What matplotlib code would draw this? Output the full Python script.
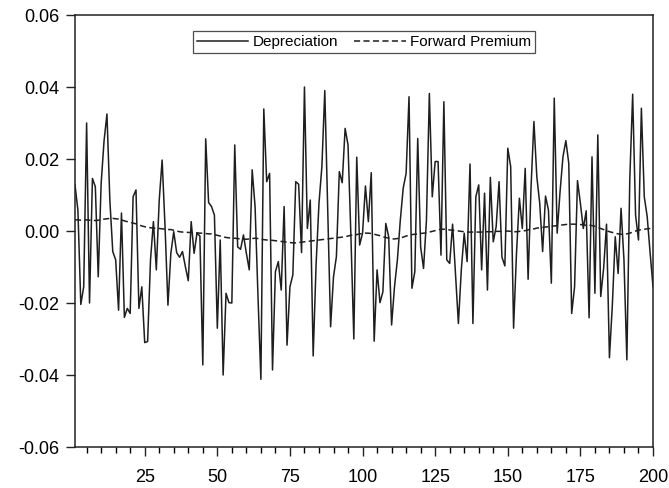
import numpy as np
import matplotlib
matplotlib.use("Agg")
import matplotlib.pyplot as plt
from matplotlib.ticker import MultipleLocator, FormatStrFormatter

plt.rcParams['font.family'] = ['Liberation Sans', 'DejaVu Sans']
plt.rcParams['axes.unicode_minus'] = False

# depreciation, obs 1..200
depreciation = [
    0.0128, 0.0058, -0.0204, -0.0155, 0.0300, -0.0200, 0.0146, 0.0123, -0.0127, 0.0132,
    0.0250, 0.0325, 0.0086, -0.0057, -0.0080, -0.0220, 0.0050, -0.0240, -0.0215, -0.0229,
    0.0095, 0.0114, -0.0215, -0.0155, -0.0310, -0.0307, -0.0080, 0.0026, -0.0108, 0.0086,
    0.0197, 0.0012, -0.0206, -0.0062, -0.0002, -0.0060, -0.0073, -0.0057, -0.0099, -0.0138,
    0.0026, -0.0062, -0.0006, -0.0014, -0.0372, 0.0256, 0.0079, 0.0068, 0.0044, -0.0270,
    -0.0025, -0.0400, -0.0173, -0.0199, -0.0200, 0.0239, -0.0044, -0.0051, -0.0011, -0.0062,
    -0.0108, 0.0170, 0.0068, -0.0182, -0.0412, 0.0339, 0.0137, 0.0160, -0.0386, -0.0113,
    -0.0085, -0.0164, 0.0068, -0.0317, -0.0155, -0.0122, 0.0137, 0.0130, -0.0060, 0.0400,
    0.0007, 0.0086, -0.0347, -0.0094, 0.0077, 0.0179, 0.0390, 0.0068, -0.0266, -0.0127,
    -0.0071, 0.0165, 0.0134, 0.0285, 0.0239, -0.0016, -0.0300, 0.0205, -0.0039, -0.0006,
    0.0125, 0.0026, 0.0162, -0.0306, -0.0108, -0.0199, -0.0169, 0.0021, -0.0016, -0.0261,
    -0.0155, -0.0080, 0.0030, 0.0119, 0.0160, 0.0373, -0.0159, -0.0113, 0.0257, -0.0044,
    -0.0104, 0.0030, 0.0382, 0.0095, 0.0193, 0.0193, -0.0067, 0.0359, -0.0080, -0.0090,
    0.0019, -0.0118, -0.0257, -0.0108, -0.0006, -0.0085, 0.0186, -0.0257, 0.0095, 0.0128,
    -0.0108, 0.0105, -0.0164, 0.0149, -0.0030, 0.0012, 0.0137, -0.0073, -0.0097, 0.0230,
    0.0179, -0.0270, -0.0062, 0.0091, 0.0007, 0.0174, -0.0134, 0.0119, 0.0304, 0.0151,
    0.0077, -0.0057, 0.0097, 0.0058, -0.0145, 0.0369, -0.0006, 0.0109, 0.0206, 0.0251,
    0.0188, -0.0229, -0.0155, 0.0140, 0.0077, 0.0007, 0.0056, -0.0241, 0.0206, -0.0173,
    0.0267, -0.0182, -0.0104, 0.0019, -0.0352, -0.0206, -0.0016, -0.0118, 0.0063, -0.0080,
    -0.0358, 0.0142, 0.0380, 0.0044, -0.0025, 0.0341, 0.0095, 0.0040, -0.0060, -0.0155,
]

# forward premium, obs 1..200
forward_premium = [
    0.0031, 0.0031, 0.0030, 0.0030, 0.0031, 0.0030, 0.0030, 0.0029, 0.0030, 0.0031,
    0.0033, 0.0034, 0.0035, 0.0035, 0.0034, 0.0033, 0.0031, 0.0028, 0.0026, 0.0024,
    0.0022, 0.0020, 0.0017, 0.0014, 0.0012, 0.0010, 0.0009, 0.0008, 0.0008, 0.0007,
    0.0006, 0.0005, 0.0004, 0.0004, 0.0002, 0.0000, -0.0002, -0.0003, -0.0003, -0.0004,
    -0.0004, -0.0005, -0.0005, -0.0006, -0.0006, -0.0007, -0.0008, -0.0008, -0.0010, -0.0012,
    -0.0014, -0.0016, -0.0018, -0.0019, -0.0020, -0.0020, -0.0021, -0.0022, -0.0022, -0.0023,
    -0.0022, -0.0021, -0.0020, -0.0021, -0.0023, -0.0024, -0.0025, -0.0025, -0.0026, -0.0027,
    -0.0028, -0.0029, -0.0030, -0.0031, -0.0032, -0.0033, -0.0033, -0.0032, -0.0031, -0.0030,
    -0.0029, -0.0028, -0.0027, -0.0026, -0.0025, -0.0024, -0.0023, -0.0022, -0.0021, -0.0020,
    -0.0019, -0.0018, -0.0017, -0.0016, -0.0014, -0.0012, -0.0011, -0.0010, -0.0008, -0.0007,
    -0.0006, -0.0006, -0.0007, -0.0009, -0.0011, -0.0013, -0.0016, -0.0018, -0.0020, -0.0022,
    -0.0022, -0.0021, -0.0019, -0.0017, -0.0014, -0.0012, -0.0010, -0.0009, -0.0008, -0.0007,
    -0.0006, -0.0005, -0.0003, -0.0001, 0.0001, 0.0003, 0.0005, 0.0005, 0.0004, 0.0003,
    0.0002, 0.0001, 0.0000, -0.0001, -0.0002, -0.0003, -0.0003, -0.0003, -0.0003, -0.0003,
    -0.0003, -0.0002, -0.0002, -0.0002, -0.0002, -0.0001, -0.0001, -0.0001, -0.0001, 0.0000,
    -0.0001, -0.0002, -0.0002, -0.0001, 0.0000, 0.0001, 0.0003, 0.0005, 0.0006, 0.0008,
    0.0009, 0.0010, 0.0011, 0.0012, 0.0013, 0.0014, 0.0015, 0.0016, 0.0017, 0.0018,
    0.0019, 0.0019, 0.0019, 0.0018, 0.0018, 0.0017, 0.0016, 0.0016, 0.0015, 0.0013,
    0.0010, 0.0007, 0.0004, 0.0001, -0.0002, -0.0004, -0.0006, -0.0008, -0.0009, -0.0009,
    -0.0008, -0.0006, -0.0003, 0.0000, 0.0002, 0.0004, 0.0005, 0.0006, 0.0007, 0.0008,
]

obs = np.arange(1, len(depreciation) + 1)
obs_fp = np.arange(1, len(forward_premium) + 1)

fig = plt.figure(figsize=(6.69, 4.88), dpi=100)
ax = fig.add_axes([75/669, 1 - 447/488, (653 - 75)/669, (447 - 15)/488])

ax.plot(obs, depreciation, color='#1e1e1e', lw=1.1, label='Depreciation')
ax.plot(obs_fp, forward_premium, color='#1e1e1e', lw=1.1, ls=(0, (4, 2.2)),
        label='Forward Premium')

ax.set_xlim(1, 200)
ax.set_ylim(-0.06, 0.06)
ax.xaxis.set_major_locator(MultipleLocator(25))
ax.xaxis.set_minor_locator(MultipleLocator(5))
ax.yaxis.set_major_locator(MultipleLocator(0.02))
ax.yaxis.set_major_formatter(FormatStrFormatter('%.2f'))
ax.set_xticks([25, 50, 75, 100, 125, 150, 175, 200])

ax.tick_params(axis='both', direction='out', labelsize=13, color='#222222', width=1)
ax.tick_params(axis='x', which='major', length=6.5, pad=9)
ax.tick_params(axis='x', which='minor', length=4.5, width=1)
ax.tick_params(axis='y', length=6.5, pad=5)
for s in ax.spines.values():
    s.set_linewidth(1.1)
    s.set_color('#222222')

leg = ax.legend(loc='upper center', bbox_to_anchor=(0.5, 0.962), ncol=2,
                fontsize=11, frameon=True, fancybox=False, edgecolor='#222222',
                handlelength=3.4, handletextpad=0.3, columnspacing=1.0,
                borderpad=0.25, borderaxespad=0)
leg.get_frame().set_linewidth(0.9)

fig.savefig('out.png', dpi=100)
